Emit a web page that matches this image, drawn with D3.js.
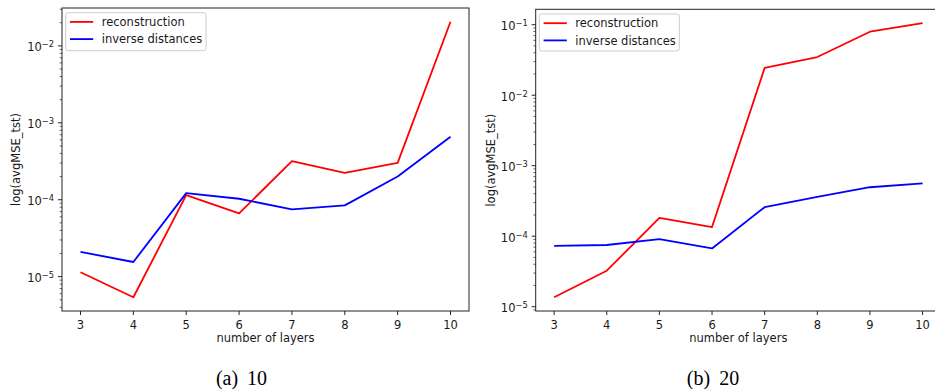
<!DOCTYPE html>
<html>
<head>
<meta charset="utf-8">
<script src="https://cdn.jsdelivr.net/npm/d3@7"></script>
<style>
  html, body { margin: 0; padding: 0; background: #fff; overflow: hidden; }
  svg { display: block; }
  text { font-family: "DejaVu Sans", sans-serif; fill: #1a1a1a; }
</style>
</head>
<body>
<svg id="chart" width="935" height="389"></svg>
<script>
// values
const layers = [3, 4, 5, 6, 7, 8, 9, 10];
const seriesNames = ["reconstruction", "inverse distances"];
const seriesColors = ["#ff0000", "#0000ff"];

const recon10 = [1.14e-5, 5.4e-6, 1.15e-4, 6.65e-5, 3.17e-4, 2.24e-4, 3.01e-4, 2.06e-2];
const invDist10 = [2.1e-5, 1.55e-5, 1.22e-4, 1.03e-4, 7.5e-5, 8.45e-5, 2.0e-4, 6.6e-4];

const recon20 = [1.36e-5, 3.24e-5, 1.82e-4, 1.35e-4, 2.44e-2, 3.48e-2, 7.96e-2, 1.057e-1];
const invDist20 = [7.3e-5, 7.5e-5, 9.1e-5, 6.7e-5, 2.58e-4, 3.6e-4, 4.95e-4, 5.6e-4];

const xLabel = "number of layers";
const yLabel = "log(avgMSE_tst)";
const captions = ["(a) 10", "(b) 20"];

// layout of the two sub-figures (pixels)
const panels = [
    { series: [recon10, invDist10], caption: captions[0],
      left: 62, right: 469, top: 8, bottom: 311, yLabelX: 16, captionX: 241.5,
      legend: { x: 65.7, y: 12.7, w: 140.3, h: 38 } },
    { series: [recon20, invDist20], caption: captions[1],
      left: 535.7, right: 941, top: 9.3, bottom: 311, yLabelX: 491, captionX: 713,
      legend: { x: 539.3, y: 14, w: 140, h: 37 } }
];

const svg = d3.select("#chart");
const FS = 11.5;
const minus = "\u2212";

panels.forEach(p => drawPanel(p));

function drawPanel(p) {
    const g = svg.append("g");

    const x = d3.scaleLinear()
        .domain([2.65, 10.35])
        .range([p.left, p.right]);

    // matplotlib-like 5% margin in log space
    const all = p.series.flat();
    const lo = Math.log10(d3.min(all));
    const hi = Math.log10(d3.max(all));
    const pad = 0.05 * (hi - lo);
    const y = d3.scaleLog()
        .domain([Math.pow(10, lo - pad), Math.pow(10, hi + pad)])
        .range([p.bottom, p.top]);

    // lines
    const line = d3.line()
        .x((d, i) => x(layers[i]))
        .y(d => y(d));

    p.series.forEach((s, k) => {
        g.append("path")
            .datum(s)
            .attr("d", line)
            .attr("fill", "none")
            .attr("stroke", seriesColors[k])
            .attr("stroke-width", 1.8)
            .attr("stroke-linejoin", "round");
    });

    // spines
    g.append("rect")
        .attr("x", p.left)
        .attr("y", p.top)
        .attr("width", p.right - p.left)
        .attr("height", p.bottom - p.top)
        .attr("fill", "none")
        .attr("stroke", "#222")
        .attr("stroke-width", 1);

    // x axis ticks
    const xTicks = g.append("g").selectAll("g")
        .data(layers)
        .join("g")
        .attr("transform", d => `translate(${x(d)},${p.bottom})`);
    xTicks.append("line")
        .attr("y2", 4)
        .attr("stroke", "#222")
        .attr("stroke-width", 1);
    xTicks.append("text")
        .attr("y", 17.8)
        .attr("text-anchor", "middle")
        .style("font-size", FS + "px")
        .text(d => d);

    // y axis ticks (log major + minor)
    const yTickVals = y.ticks();
    const isMajor = v => Math.abs(Math.log10(v) - Math.round(Math.log10(v))) < 1e-6;

    g.append("g").selectAll("line")
        .data(yTickVals)
        .join("line")
        .attr("x1", p.left)
        .attr("x2", d => p.left - (isMajor(d) ? 4 : 2.3))
        .attr("y1", d => y(d))
        .attr("y2", d => y(d))
        .attr("stroke", "#222")
        .attr("stroke-width", d => isMajor(d) ? 1 : 0.7);

    const majors = yTickVals.filter(isMajor);
    const lab = g.append("g").selectAll("text")
        .data(majors)
        .join("text")
        .attr("x", p.left - 8)
        .attr("y", d => y(d) + 5.3)
        .attr("text-anchor", "end")
        .style("font-size", FS + "px");
    lab.append("tspan").text("10");
    lab.append("tspan")
        .attr("dy", -3.8)
        .style("font-size", "8.3px")
        .text(d => minus + Math.abs(Math.round(Math.log10(d))));

    // axis labels
    g.append("text")
        .attr("x", (p.left + p.right) / 2)
        .attr("y", 342)
        .attr("text-anchor", "middle")
        .style("font-size", FS + "px")
        .text(xLabel);

    g.append("text")
        .attr("transform", `translate(${p.yLabelX + 4},${(p.top + p.bottom) / 2}) rotate(-90)`)
        .attr("text-anchor", "middle")
        .style("font-size", FS + "px")
        .text(yLabel);

    // legend
    const L = p.legend;
    const leg = g.append("g");
    leg.append("rect")
        .attr("x", L.x)
        .attr("y", L.y)
        .attr("width", L.w)
        .attr("height", L.h)
        .attr("rx", 2.5)
        .attr("fill", "rgba(255,255,255,0.8)")
        .attr("stroke", "#cccccc")
        .attr("stroke-width", 1);
    seriesNames.forEach((name, k) => {
        const ry = L.y + 9.2 + k * 17.2;
        leg.append("line")
            .attr("x1", L.x + 4.3)
            .attr("x2", L.x + 27.5)
            .attr("y1", ry)
            .attr("y2", ry)
            .attr("stroke", seriesColors[k])
            .attr("stroke-width", 1.8);
        leg.append("text")
            .attr("x", L.x + 36)
            .attr("y", ry + 4.1)
            .style("font-size", FS + "px")
            .text(name);
    });

    // caption
    g.append("text")
        .attr("x", p.captionX)
        .attr("y", 385)
        .attr("text-anchor", "middle")
        .style("font-family", "'Liberation Serif', serif")
        .style("font-size", "20px")
        .style("word-spacing", "4px")
        .style("fill", "#000")
        .text(p.caption);
}
</script>
</body>
</html>
